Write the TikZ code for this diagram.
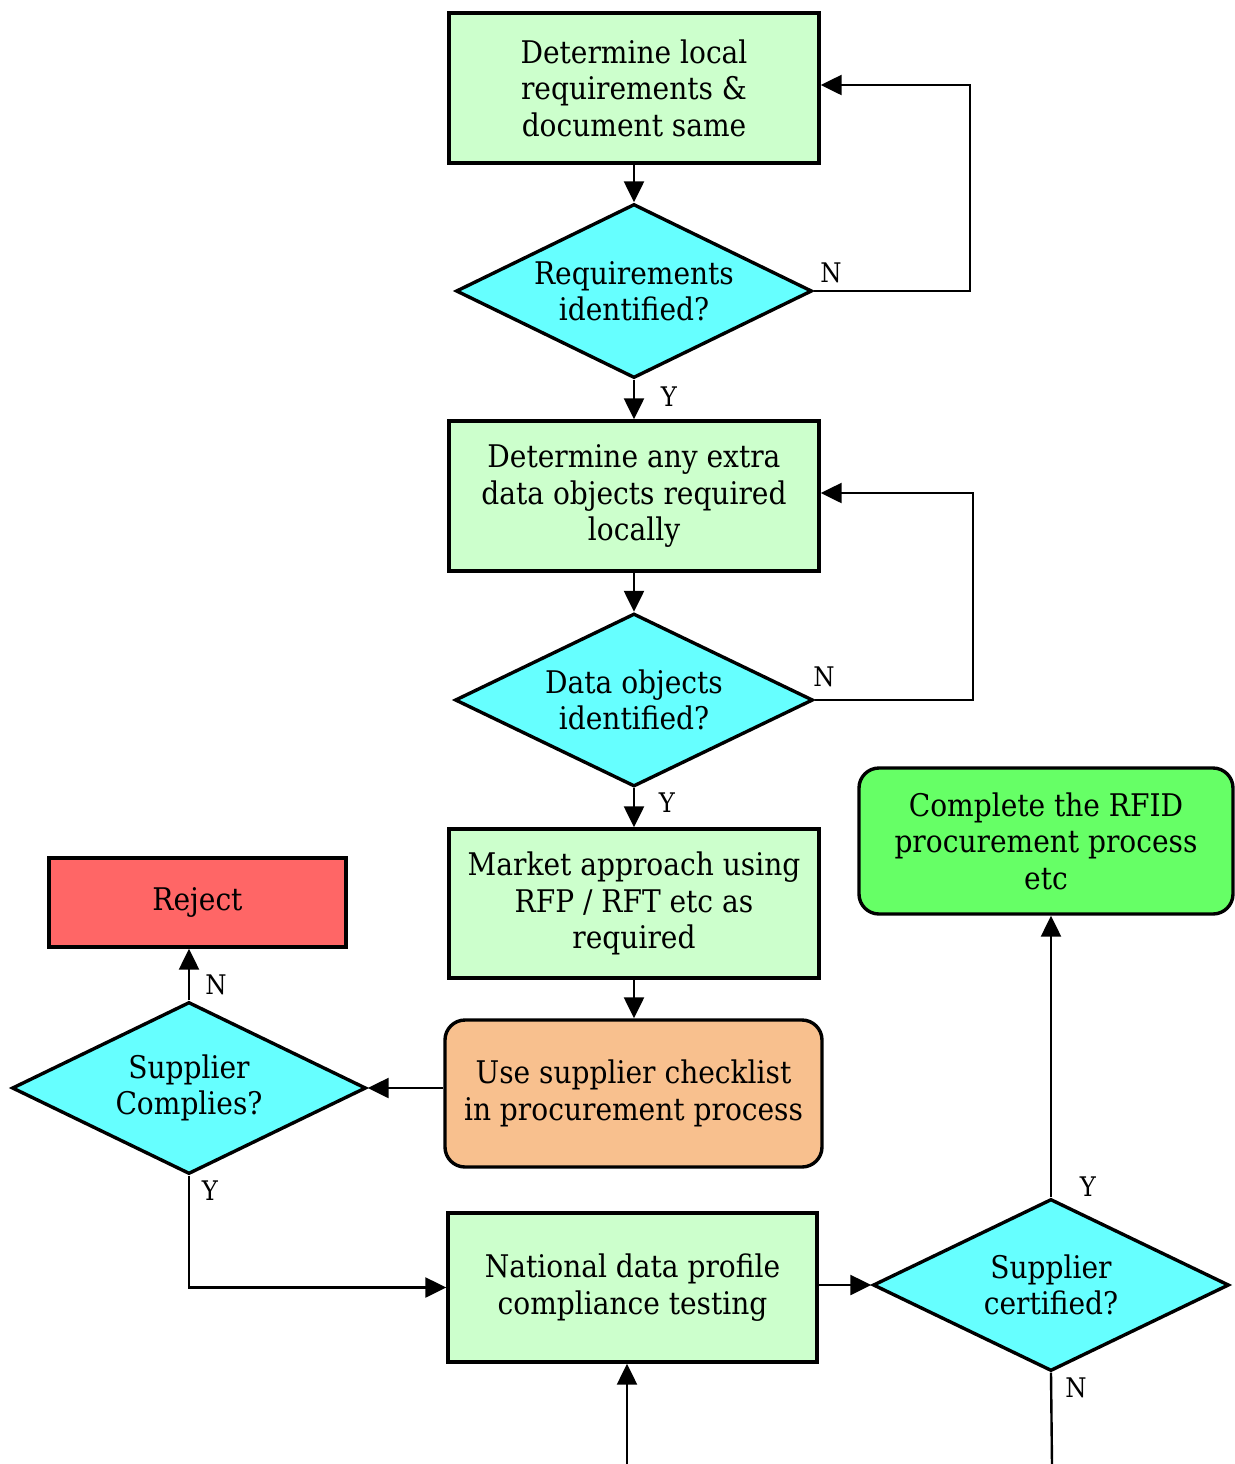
\documentclass[tikz,border=0pt]{standalone}
\usepackage{fontspec}
\setmainfont{DejaVu Serif Condensed}
\usetikzlibrary{shapes.geometric,arrows.meta,calc}
\definecolor{lgreen}{HTML}{CCFFCC}
\definecolor{cyanf}{HTML}{66FFFF}
\definecolor{redf}{HTML}{FF6666}
\definecolor{orangef}{HTML}{F8C08E}
\definecolor{gfill}{HTML}{66FF66}
\newcommand\mainfs{\fontsize{15.6}{18.25}\selectfont}
\newcommand\labfs{\fontsize{13.5}{15}\selectfont}
\begin{document}
\begin{tikzpicture}[x=0.5pt,y=-0.5pt,
  box/.style={draw=black, line width=1.7pt, fill=lgreen, minimum width=185pt, minimum height=75pt, align=center, inner sep=0pt, font=\mainfs},
  dec/.style={diamond, draw=black, line width=1.7pt, fill=cyanf, align=center, inner sep=0pt, shape aspect=2, font=\mainfs},
  arr/.style={line width=1.2pt, -{Triangle[length=10.5pt,width=10pt]}},
  lab/.style={font=\labfs, inner sep=0pt},
]
\useasboundingbox (0,0) rectangle (1235,1464);
% nodes
\node[box] (b1) at (634,88) {Determine local\\requirements \&\\document same};
\node[dec, minimum width=178pt, minimum height=87pt] (d1) at (634,291) {Requirements\\identified?};
\node[box] (b2) at (634,496) {Determine any extra\\data objects required\\locally};
\node[dec, minimum width=179pt, minimum height=86.5pt] (d2) at (634,700) {Data objects\\identified?};
\node[box, minimum height=74.5pt] (b3) at (634,903.5) {Market approach using\\RFP / RFT etc as\\required};
\node[box, rounded corners=10pt, fill=orangef, minimum width=188.5pt, minimum height=73.5pt] (b4) at (633.5,1093.5) {Use supplier checklist\\in procurement process};
\node[dec, minimum width=177pt, minimum height=86pt] (d3) at (189,1088) {Supplier\\Complies?};
\node[box, fill=redf, minimum width=148.5pt, minimum height=44.5pt] (rej) at (197.5,902.5) {Reject};
\node[box, minimum width=184.5pt, minimum height=74.5pt] (b5) at (632.5,1287.5) {National data profile\\compliance testing};
\node[dec, minimum width=178pt, minimum height=86pt] (d4) at (1051,1285) {Supplier\\certified?};
\node[box, rounded corners=10pt, fill=gfill, minimum width=187pt, minimum height=73pt] (comp) at (1046,841) {Complete the RFID\\procurement process\\etc};
\coordinate (inB) at (627,1464);
\coordinate (outN) at (1052,1464);
% connectors
\draw[arr] (b1.south) -- (d1.north);
\draw[arr] (d1.east) -- ++(156,0) |- ([yshift=1.5pt]b1.east);
\draw[arr] (d1.south) -- (b2.north);
\draw[arr] (b2.south) -- (d2.north);
\draw[arr] (d2.east) -- ++(158,0) |- ([yshift=1.5pt]b2.east);
\draw[arr] (d2.south) -- (b3.north);
\draw[arr] (b3.south) -- (b3.south |- b4.north);
\draw[arr] (b4.west |- d3.east) -- (d3.east);
\draw[arr] (d3.north) -- (d3.north |- rej.south);
\draw[arr] (d3.south) |- (b5.west);
\draw[arr] (b5.east |- d4.west) -- (d4.west);
\draw[arr] (d4.north) -- (d4.north |- comp.south);
\draw[arr] (inB) -- (inB |- b5.south);
\draw[line width=1.2pt] (d4.south) -- (outN);
% labels
\node[lab] (n1) at (831,273) {N};
\node[lab] (y1) at (669,397) {Y};
\node[lab] (n2) at (824,677) {N};
\node[lab] (y2) at (667,803) {Y};
\node[lab] (n3) at (216,985) {N};
\node[lab] (y3) at (210,1191) {Y};
\node[lab] (y4) at (1088,1187) {Y};
\node[lab] (n4) at (1076,1388) {N};
\end{tikzpicture}
\end{document}
